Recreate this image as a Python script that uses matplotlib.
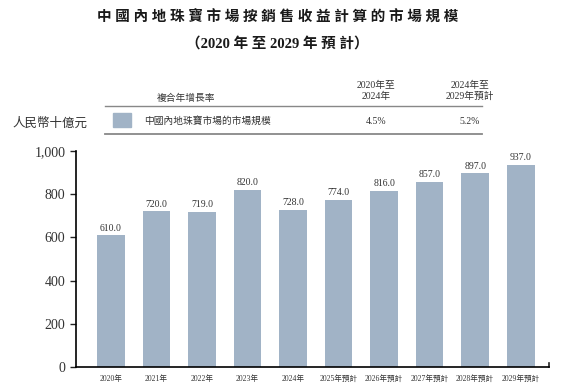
import matplotlib
matplotlib.use('Agg')
import matplotlib.pyplot as plt
import matplotlib.patches as mpatches
import numpy as np

years = ['2020年', '2021年', '2022年', '2023年', '2024年',
         '2025年預計', '2026年預計', '2027年預計', '2028年預計', '2029年預計']
values = [610.0, 720.0, 719.0, 820.0, 728.0, 774.0, 816.0, 857.0, 897.0, 937.0]
cagr_periods = ['2020年至\n2024年', '2024年至\n2029年預計']
cagr_values = ['4.5%', '5.2%']
series_name = '中國內地珠寶市場的市場規模'

fonts = ['Liberation Serif', 'Noto Sans CJK TC']
plt.rcParams['font.family'] = fonts

bar_color = '#a1b3c6'
text_color = '#333333'

fig = plt.figure(figsize=(5.7, 3.92), dpi=100)
ax = fig.add_axes([0.133, 0.064, 0.83, 0.551])

x = np.arange(len(years))
ax.bar(x, values, 0.61, color=bar_color)
for xi, v in zip(x, values):
    ax.text(xi, v + 12, f'{v:.1f}', ha='center', va='bottom', fontsize=7, color=text_color)

ax.set_xlim(-0.77, 9.62)
ax.set_ylim(0, 1000)
ax.set_yticks(range(0, 1001, 200))
ax.set_yticklabels(['0', '200', '400', '600', '800', '1,000'], fontsize=10, color=text_color)
ax.set_xticks(x)
ax.set_xticklabels(years, fontsize=5.5, color=text_color)
ax.tick_params(axis='x', length=0, pad=6)
ax.tick_params(axis='y', length=4, width=1, color='#222222')
for s in ['top', 'right']:
    ax.spines[s].set_visible(False)
ax.spines['left'].set_linewidth(1.2)
ax.spines['bottom'].set_linewidth(1.2)
ax.plot([1, 1], [0, 0.02], transform=ax.transAxes, color='#222222', lw=1.2, clip_on=False)

# titles
fig.text(0.487, 0.955, ' '.join('中國內地珠寶市場按銷售收益計算的市場規模'),
         ha='center', va='center', fontsize=10.5, fontweight='bold', color='#1a1a1a')
fig.text(0.487, 0.888, '（2020 年 至 2029 年 預 計）',
         ha='center', va='center', fontsize=10.5, fontweight='bold', color='#1a1a1a')

# CAGR table
fig.add_artist(plt.Line2D([105 / 570, 482 / 570], [1 - 106 / 392] * 2, color='#888888', lw=1))
fig.add_artist(plt.Line2D([105 / 570, 482 / 570], [1 - 134 / 392] * 2, color='#888888', lw=1.3))
fig.text(157 / 570, 1 - 98 / 392, '複合年增長率', ha='left', va='center', fontsize=7, color=text_color)
for cx, period, val in zip([376, 470], cagr_periods, cagr_values):
    fig.text(cx / 570, 1 - 91 / 392, period, ha='center', va='center', fontsize=7,
             color=text_color, linespacing=1.25)
    fig.text(cx / 570, 1 - 121 / 392, val, ha='center', va='center', fontsize=7, color=text_color)
fig.add_artist(mpatches.Rectangle((113 / 570, 1 - 127 / 392), 18 / 570, 14 / 392,
                                  color=bar_color, transform=fig.transFigure))
fig.text(144 / 570, 1 - 121 / 392, series_name, ha='left', va='center', fontsize=7, color=text_color)
fig.text(12 / 570, 1 - 124 / 392, '人民幣十億元', ha='left', va='center', fontsize=9, color=text_color)

fig.savefig('out.png', dpi=100)
